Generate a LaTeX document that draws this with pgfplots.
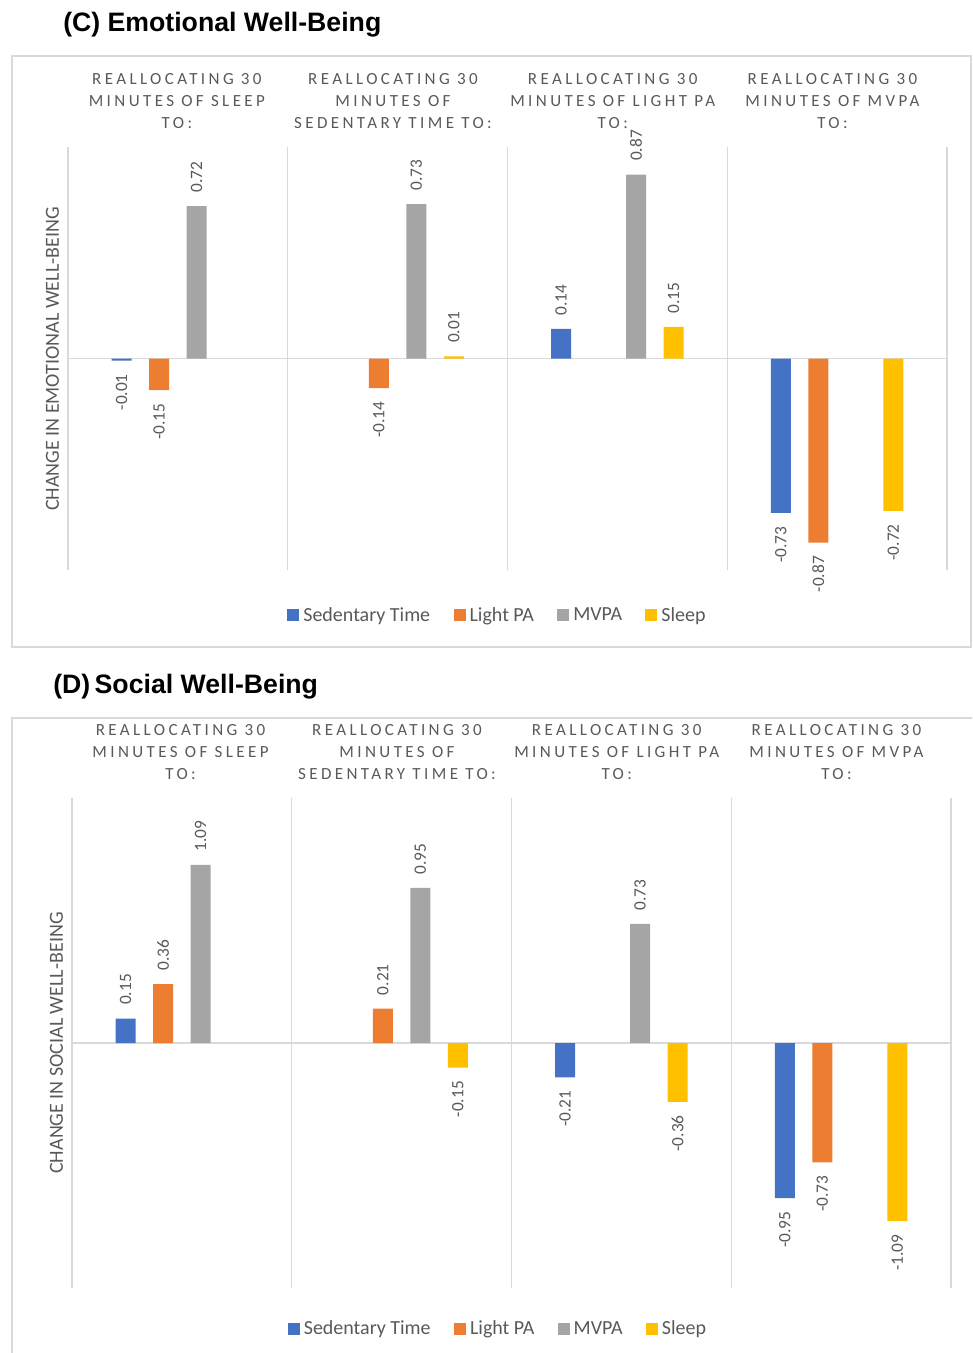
\documentclass[border=0pt]{standalone}
\usepackage{graphicx}
\usepackage{pgfplots}
\pgfplotsset{compat=1.18}
\usepackage{pgfplotstable}
\usepackage{fontspec}
\setmainfont{Carlito}
\newfontfamily\titlefont{Liberation Sans}
\newfontfamily\hdrfont[LetterSpace=20]{Carlito}

\definecolor{csed}{HTML}{4472C4}
\definecolor{clight}{HTML}{ED7D31}
\definecolor{cmvpa}{HTML}{A5A5A5}
\definecolor{csleep}{HTML}{FFC000}
\definecolor{cgrid}{HTML}{D9D9D9}
\definecolor{ctext}{HTML}{595959}

% Panel C: Emotional well-being
\pgfplotstableread{
x y
0.5 -0.01
2.5 0.14
3.5 -0.73
}\CSed
\pgfplotstableread{
x y
0.5 -0.15
1.5 -0.14
3.5 -0.87
}\CLight
\pgfplotstableread{
x y
0.5 0.72
1.5 0.73
2.5 0.87
}\CMvpa
\pgfplotstableread{
x y
1.5 0.01
2.5 0.15
3.5 -0.72
}\CSleep
% Panel D: Social well-being
\pgfplotstableread{
x y
0.5 0.15
2.5 -0.21
3.5 -0.95
}\DSed
\pgfplotstableread{
x y
0.5 0.36
1.5 0.21
3.5 -0.73
}\DLight
\pgfplotstableread{
x y
0.5 1.09
1.5 0.95
2.5 0.73
}\DMvpa
\pgfplotstableread{
x y
1.5 -0.15
2.5 -0.36
3.5 -1.09
}\DSleep

\pgfplotsset{
  panel/.style={
    scale only axis, width=659.25pt, xmin=0, xmax=4,
    axis line style={draw=none}, tick style={draw=none},
    xtick={0,1,2,3,4}, ytick={0},
    xticklabels={\empty,\empty,\empty,\empty,\empty}, yticklabels={\empty},
    grid=major, major grid style={cgrid, line width=1.1pt},
    clip=false,
    legend columns=4,
    legend style={draw=none, fill=none, anchor=center,
      font=\fontsize{15pt}{18pt}\selectfont, text=ctext,
      /tikz/every odd column/.append style={column sep=1pt},
      /tikz/every even column/.append style={column sep=15.5pt}},
    legend image code/.code={\fill[#1] (0pt,-4.5pt) rectangle (9pt,4.5pt);},
  },
  bar/.style 2 args={ybar, bar width=15pt, draw=none, fill=#1, bar shift=#2,
    point meta=y,
    nodes near coords={\rotatebox{90}{\pgfmathprintnumber[fixed, fixed zerofill, precision=2, assume math mode=true]{\pgfplotspointmeta}}},
    nodes near coords align={vertical},
    every node near coord/.append style={xshift=#2,
      font=\fontsize{13pt}{15pt}\selectfont, text=ctext, inner ysep=10pt, inner xsep=0pt}},
}
\tikzset{
  hdr/.style={anchor=south, yshift=13.5pt, align=center, inner sep=0pt,
    font=\hdrfont\fontsize{12.75pt}{16.5pt}\selectfont, text=ctext},
  ttl/.style={anchor=base west, inner sep=0pt, font=\titlefont\bfseries\fontsize{20pt}{24pt}\selectfont},
  ylab/.style={rotate=90, inner sep=0pt, font=\fontsize{15pt}{18pt}\selectfont, text=ctext},
}

\begin{document}
\begin{tikzpicture}
\path[use as bounding box] (0pt,0pt) rectangle (729pt,-1014.75pt);
\clip (0pt,0pt) rectangle (729pt,-1014.75pt);

% ---------------- Panel C ----------------
\node[ttl] at (47.25pt,-23.6pt) {(C) Emotional Well-Being};
\draw[cgrid, line width=1.1pt] (9pt,-42pt) rectangle (728.25pt,-485.25pt);
\node[ylab] at (39.4pt,-269.3pt) {CHANGE IN EMOTIONAL WELL-BEING};
\begin{axis}[panel, at={(51pt,-427.5pt)}, anchor=south west,
  height=317.25pt, ymin=-1, ymax=1,
  legend style={at={(0.489,-0.107)}}]
\addplot[bar={csed}{-42.19pt}] table[x=x, y=y] {\CSed};
\addlegendentry{Sedentary Time}
\addplot[bar={clight}{-14.06pt}] table[x=x, y=y] {\CLight};
\addlegendentry{Light PA}
\addplot[bar={cmvpa}{14.06pt}] table[x=x, y=y] {\CMvpa};
\addlegendentry{MVPA}
\addplot[bar={csleep}{42.19pt}] table[x=x, y=y] {\CSleep};
\addlegendentry{Sleep}
\node[hdr, xshift=-0.75pt] at (rel axis cs:0.125,1) {REALLOCATING 30\\MINUTES OF SLEEP\\TO:};
\node[hdr, xshift=-3.5pt] at (rel axis cs:0.375,1) {REALLOCATING 30\\MINUTES OF\\SEDENTARY TIME TO:};
\node[hdr, xshift=-3.5pt] at (rel axis cs:0.625,1) {REALLOCATING 30\\MINUTES OF LIGHT PA\\TO:};
\node[hdr, xshift=-3.5pt] at (rel axis cs:0.875,1) {REALLOCATING 30\\MINUTES OF MVPA\\TO:};
\end{axis}

% ---------------- Panel D ----------------
\node[ttl] at (39.75pt,-520.1pt) {(D)\,Social Well-Being};
\draw[cgrid, line width=1.1pt] (9pt,-1020pt) -- (9pt,-538.5pt) -- (735pt,-538.5pt);
\node[ylab] at (42.4pt,-782.25pt) {CHANGE IN SOCIAL WELL-BEING};
\begin{axis}[panel, at={(54pt,-966pt)}, anchor=south west,
  height=367.5pt, ymin=-1.5, ymax=1.5,
  legend style={at={(0.485,-0.0837)}}]
\addplot[bar={csed}{-42.19pt}] table[x=x, y=y] {\DSed};
\addlegendentry{Sedentary Time}
\addplot[bar={clight}{-14.06pt}] table[x=x, y=y] {\DLight};
\addlegendentry{Light PA}
\addplot[bar={cmvpa}{14.06pt}] table[x=x, y=y] {\DMvpa};
\addlegendentry{MVPA}
\addplot[bar={csleep}{42.19pt}] table[x=x, y=y] {\DSleep};
\addlegendentry{Sleep}
\node[hdr, xshift=-1pt] at (rel axis cs:0.125,1) {REALLOCATING 30\\MINUTES OF SLEEP\\TO:};
\node[hdr, xshift=-3.5pt] at (rel axis cs:0.375,1) {REALLOCATING 30\\MINUTES OF\\SEDENTARY TIME TO:};
\node[hdr, xshift=-3.5pt] at (rel axis cs:0.625,1) {REALLOCATING 30\\MINUTES OF LIGHT PA\\TO:};
\node[hdr, xshift=-3.5pt] at (rel axis cs:0.875,1) {REALLOCATING 30\\MINUTES OF MVPA\\TO:};
\end{axis}
\end{tikzpicture}
\end{document}
